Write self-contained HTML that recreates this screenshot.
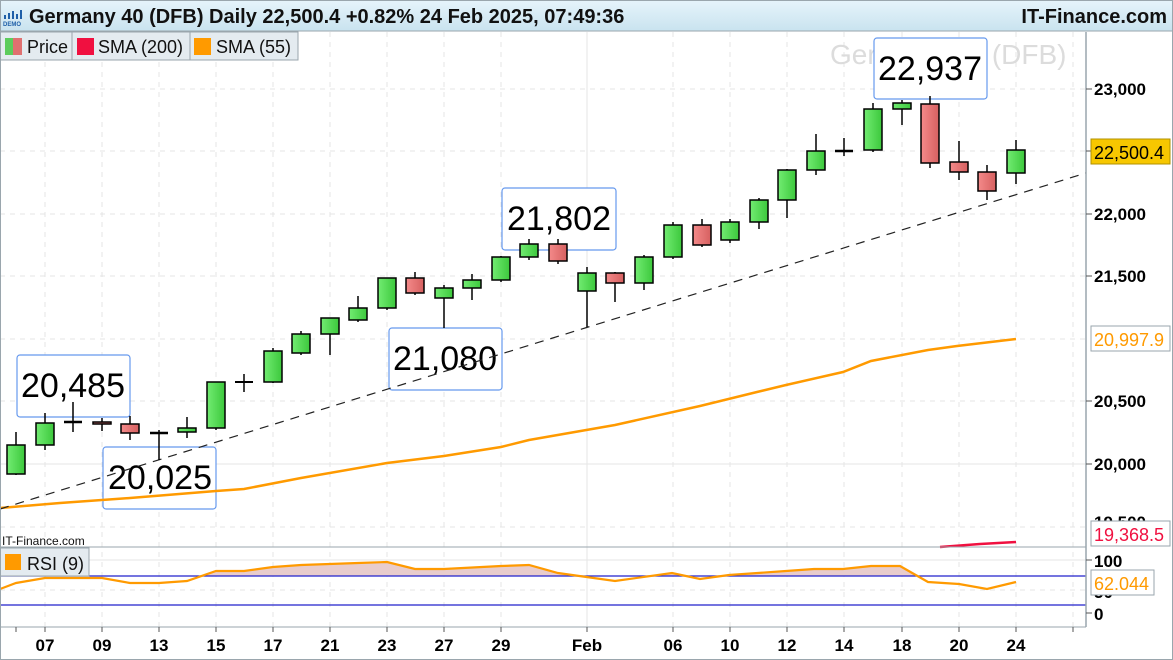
<!DOCTYPE html>
<html><head><meta charset="utf-8"><style>
html,body{margin:0;padding:0;background:#fff;}
svg{display:block;font-family:"Liberation Sans",sans-serif;}
</style></head><body>
<svg width="1173" height="660" viewBox="0 0 1173 660" xmlns="http://www.w3.org/2000/svg">
<defs>
<linearGradient id="hd" x1="0" y1="0" x2="0" y2="1"><stop offset="0" stop-color="#e6f4fb"/><stop offset="1" stop-color="#c9e3ef"/></linearGradient>
<linearGradient id="gg" x1="0" y1="0" x2="1" y2="0"><stop offset="0" stop-color="#72ec72"/><stop offset="1" stop-color="#3cc83c"/></linearGradient>
<linearGradient id="rg" x1="0" y1="0" x2="1" y2="0"><stop offset="0" stop-color="#f48a8a"/><stop offset="1" stop-color="#d66060"/></linearGradient>
</defs>
<rect width="1173" height="660" fill="#fff"/>
<!-- header -->
<rect x="0" y="0" width="1173" height="31" fill="url(#hd)"/>
<line x1="0" y1="31" x2="1173" y2="31" stroke="#9aa6ad"/>
<g fill="#1e5fa8"><rect x="4" y="15" width="2" height="4"/><rect x="8" y="13" width="2" height="6"/><rect x="12" y="11" width="2" height="8"/><rect x="16" y="14" width="2" height="5"/><rect x="20" y="10" width="2" height="9"/></g>
<text x="3" y="26" font-size="6" fill="#1e5fa8" font-weight="bold">DEMO</text>
<text x="29" y="23" font-size="20" font-weight="bold" fill="#111">Germany 40 (DFB) Daily 22,500.4 +0.82% 24 Feb 2025, 07:49:36</text>
<text x="1167" y="23" font-size="20" font-weight="bold" fill="#111" text-anchor="end">IT-Finance.com</text>
<!-- grid -->
<g stroke="#e4e4e4" stroke-dasharray="5,5">
<line x1="45" y1="32" x2="45" y2="627"/><line x1="102" y1="32" x2="102" y2="627"/><line x1="159" y1="32" x2="159" y2="627"/><line x1="216" y1="32" x2="216" y2="627"/><line x1="273" y1="32" x2="273" y2="627"/><line x1="330" y1="32" x2="330" y2="627"/><line x1="387" y1="32" x2="387" y2="627"/><line x1="444" y1="32" x2="444" y2="627"/><line x1="501" y1="32" x2="501" y2="627"/><line x1="673" y1="32" x2="673" y2="627"/><line x1="730" y1="32" x2="730" y2="627"/><line x1="787" y1="32" x2="787" y2="627"/><line x1="844" y1="32" x2="844" y2="627"/><line x1="902" y1="32" x2="902" y2="627"/><line x1="959" y1="32" x2="959" y2="627"/><line x1="1016" y1="32" x2="1016" y2="627"/><line x1="1073" y1="32" x2="1073" y2="627"/>
<line x1="0" y1="89" x2="1086" y2="89"/><line x1="0" y1="151" x2="1086" y2="151"/><line x1="0" y1="214" x2="1086" y2="214"/><line x1="0" y1="276" x2="1086" y2="276"/><line x1="0" y1="339" x2="1086" y2="339"/><line x1="0" y1="401" x2="1086" y2="401"/><line x1="0" y1="527" x2="1086" y2="527"/>
<line x1="0" y1="590" x2="1086" y2="590"/>
</g>
<line x1="0" y1="464" x2="1086" y2="464" stroke="#e6e6e6"/>
<line x1="587" y1="32" x2="587" y2="627" stroke="#e6e6e6"/>
<line x1="0" y1="560" x2="1086" y2="560" stroke="#e6e6e6"/>
<!-- watermark -->
<text x="830" y="64" font-size="28" fill="#dcdcdc">Germany 40 (DFB)</text>
<!-- legend -->
<rect x="0" y="32" width="298" height="28" fill="#e4ebf0" stroke="#9aa6ad"/>
<line x1="72" y1="32" x2="72" y2="60" stroke="#9aa6ad"/><line x1="190" y1="32" x2="190" y2="60" stroke="#9aa6ad"/>
<rect x="5" y="38" width="8" height="17" fill="#5ccc5c"/><rect x="13" y="38" width="9" height="17" fill="#e07070"/>
<text x="27" y="53" font-size="18" fill="#111">Price</text>
<rect x="77" y="38" width="17" height="17" fill="#f01040"/>
<text x="98" y="53" font-size="18" fill="#111">SMA (200)</text>
<rect x="194" y="38" width="17" height="17" fill="#ff9a00"/>
<text x="216" y="53" font-size="18" fill="#111">SMA (55)</text>
<!-- annotation boxes -->
<g fill="#fff" stroke="#6699ee" stroke-width="1.2">
<rect x="17" y="355" width="113" height="62" rx="3"/>
<rect x="103" y="447" width="113" height="62" rx="3"/>
<rect x="389" y="328" width="113" height="62" rx="3"/>
<rect x="502" y="188" width="114" height="62" rx="3"/>
<rect x="874" y="38" width="113" height="61" rx="3"/>
</g>
<g font-size="34" fill="#000" text-anchor="middle">
<text x="73" y="397">20,485</text>
<text x="160" y="489">20,025</text>
<text x="445" y="370">21,080</text>
<text x="559" y="230">21,802</text>
<text x="930" y="80">22,937</text>
</g>
<!-- SMA55 -->
<polyline fill="none" stroke="#ff9a00" stroke-width="2.5" points="0,508 60,503 130,498 216,491 244,489 301,478 387,463 444,456 501,447 529,440 615,425 700,406 757,392 786,385 843,372 871,361 928,350 957,346 1016,339"/>
<!-- SMA200 -->
<polyline fill="none" stroke="#f01040" stroke-width="2.5" points="940,547 980,544 1016,542"/>
<!-- trend line -->
<line x1="0" y1="509" x2="1086" y2="173" stroke="#222" stroke-width="1.2" stroke-dasharray="9,7"/>
<!-- candles -->
<g stroke="#000" stroke-width="1.5">
<line x1="16" y1="432" x2="16" y2="475"/><rect x="7" y="445" width="18" height="29" fill="url(#gg)"/>
<line x1="45" y1="413" x2="45" y2="450"/><rect x="36" y="423" width="18" height="22" fill="url(#gg)"/>
<line x1="73" y1="402" x2="73" y2="432"/><line x1="64" y1="422" x2="82" y2="422" stroke-width="2.5"/>
<line x1="102" y1="418" x2="102" y2="431"/><rect x="93" y="422" width="18" height="2" fill="url(#rg)"/>
<line x1="130" y1="416" x2="130" y2="440"/><rect x="121" y="424" width="18" height="9" fill="url(#rg)"/>
<line x1="159" y1="430" x2="159" y2="460"/><line x1="150" y1="433" x2="168" y2="433" stroke-width="2.5"/>
<line x1="187" y1="417" x2="187" y2="438"/><rect x="178" y="428" width="18" height="4" fill="url(#gg)"/>
<line x1="216" y1="382" x2="216" y2="430"/><rect x="207" y="382" width="18" height="46" fill="url(#gg)"/>
<line x1="244" y1="374" x2="244" y2="392"/><line x1="235" y1="382" x2="253" y2="382" stroke-width="2"/>
<line x1="273" y1="348" x2="273" y2="383"/><rect x="264" y="351" width="18" height="31" fill="url(#gg)"/>
<line x1="301" y1="331" x2="301" y2="355"/><rect x="292" y="334" width="18" height="19" fill="url(#gg)"/>
<line x1="330" y1="318" x2="330" y2="355"/><rect x="321" y="318" width="18" height="16" fill="url(#gg)"/>
<line x1="358" y1="296" x2="358" y2="322"/><rect x="349" y="308" width="18" height="12" fill="url(#gg)"/>
<line x1="387" y1="278" x2="387" y2="310"/><rect x="378" y="278" width="18" height="30" fill="url(#gg)"/>
<line x1="415" y1="272" x2="415" y2="295"/><rect x="406" y="278" width="18" height="15" fill="url(#rg)"/>
<line x1="444" y1="285" x2="444" y2="328"/><rect x="435" y="288" width="18" height="10" fill="url(#gg)"/>
<line x1="472" y1="274" x2="472" y2="300"/><rect x="463" y="280" width="18" height="8" fill="url(#gg)"/>
<line x1="501" y1="256" x2="501" y2="282"/><rect x="492" y="257" width="18" height="23" fill="url(#gg)"/>
<line x1="529" y1="239" x2="529" y2="260"/><rect x="520" y="244" width="18" height="13" fill="url(#gg)"/>
<line x1="558" y1="239" x2="558" y2="264"/><rect x="549" y="244" width="18" height="17" fill="url(#rg)"/>
<line x1="587" y1="267" x2="587" y2="327"/><rect x="578" y="273" width="18" height="18" fill="url(#gg)"/>
<line x1="615" y1="272" x2="615" y2="302"/><rect x="606" y="273" width="18" height="10" fill="url(#rg)"/>
<line x1="644" y1="255" x2="644" y2="290"/><rect x="635" y="257" width="18" height="26" fill="url(#gg)"/>
<line x1="673" y1="222" x2="673" y2="259"/><rect x="664" y="225" width="18" height="32" fill="url(#gg)"/>
<line x1="702" y1="219" x2="702" y2="247"/><rect x="693" y="225" width="18" height="20" fill="url(#rg)"/>
<line x1="730" y1="219" x2="730" y2="243"/><rect x="721" y="222" width="18" height="18" fill="url(#gg)"/>
<line x1="759" y1="198" x2="759" y2="229"/><rect x="750" y="200" width="18" height="22" fill="url(#gg)"/>
<line x1="787" y1="169" x2="787" y2="218"/><rect x="778" y="170" width="18" height="30" fill="url(#gg)"/>
<line x1="816" y1="134" x2="816" y2="175"/><rect x="807" y="151" width="18" height="19" fill="url(#gg)"/>
<line x1="844" y1="138" x2="844" y2="156"/><line x1="835" y1="151" x2="853" y2="151" stroke-width="2.5"/>
<line x1="873" y1="103" x2="873" y2="152"/><rect x="864" y="109" width="18" height="41" fill="url(#gg)"/>
<line x1="902" y1="100" x2="902" y2="125"/><rect x="893" y="103" width="18" height="6" fill="url(#gg)"/>
<line x1="930" y1="96" x2="930" y2="168"/><rect x="921" y="104" width="18" height="59" fill="url(#rg)"/>
<line x1="959" y1="141" x2="959" y2="180"/><rect x="950" y="162" width="18" height="10" fill="url(#rg)"/>
<line x1="987" y1="165" x2="987" y2="200"/><rect x="978" y="172" width="18" height="19" fill="url(#rg)"/>
<line x1="1016" y1="140" x2="1016" y2="184"/><rect x="1007" y="150" width="18" height="23" fill="url(#gg)"/>
</g>
<text x="2" y="545" font-size="12" fill="#111">IT-Finance.com</text>
<!-- RSI panel -->
<line x1="0" y1="547" x2="1086" y2="547" stroke="#9aa6ad"/>
<polygon fill="#e8cccc" points="200,576 216,571 244,571 273,567 301,565 358,563 387,562 415,569 444,569 501,566 529,565 558,573 570,576"/>
<polygon fill="#e8cccc" points="650,576 672,573 688,576"/>
<polygon fill="#e8cccc" points="720,576 729,575 786,571 814,569 843,569 871,566 900,566 918,576"/>
<line x1="0" y1="576" x2="1086" y2="576" stroke="#2222cc" stroke-width="1.2"/>
<line x1="0" y1="605" x2="1086" y2="605" stroke="#2222cc" stroke-width="1.2"/>
<polyline fill="none" stroke="#ff9a00" stroke-width="2.2" points="0,589 16,583 45,578 102,578 130,583 159,583 187,581 216,571 244,571 273,567 301,565 358,563 387,562 415,569 444,569 501,566 529,565 558,573 615,581 672,573 700,579 729,575 786,571 814,569 843,569 871,566 900,566 928,582 959,584 987,589 1016,582"/>
<rect x="0" y="548" width="89" height="28" fill="#e4ebf0" stroke="#9aa6ad"/>
<rect x="5" y="554" width="16" height="16" fill="#ff9a00"/>
<text x="27" y="570" font-size="18" fill="#111">RSI (9)</text>
<line x1="0" y1="627" x2="1086" y2="627" stroke="#9aa6ad"/>
<!-- right axis -->
<line x1="1086" y1="32" x2="1086" y2="627" stroke="#9aa6ad" stroke-width="1.5"/>
<g stroke="#555"><line x1="1086" y1="89" x2="1092" y2="89"/><line x1="1086" y1="151" x2="1092" y2="151"/><line x1="1086" y1="214" x2="1092" y2="214"/><line x1="1086" y1="276" x2="1092" y2="276"/><line x1="1086" y1="401" x2="1092" y2="401"/><line x1="1086" y1="464" x2="1092" y2="464"/><line x1="1086" y1="560" x2="1092" y2="560"/><line x1="1086" y1="613" x2="1092" y2="613"/></g>
<g font-size="17" fill="#000" font-weight="bold">
<text x="1094" y="95">23,000</text>
<text x="1094" y="220">22,000</text>
<text x="1094" y="282">21,500</text>
<text x="1094" y="407">20,500</text>
<text x="1094" y="470">20,000</text>
<text x="1094" y="528">19,500</text>
<text x="1094" y="567">100</text>
<text x="1094" y="598">50</text>
<text x="1094" y="620">0</text>
</g>
<rect x="1091" y="139" width="79" height="25" fill="#f7c700" stroke="#b09000"/>
<text x="1094" y="159" font-size="18" fill="#000">22,500.4</text>
<rect x="1091" y="326" width="79" height="25" fill="#fff" stroke="#9aa6ad"/>
<text x="1094" y="346" font-size="18" fill="#ff9a00">20,997.9</text>
<rect x="1091" y="521" width="79" height="25" fill="#fff" stroke="#9aa6ad"/>
<text x="1094" y="541" font-size="18" fill="#f01040">19,368.5</text>
<rect x="1091" y="570" width="63" height="25" fill="#fff" stroke="#9aa6ad"/>
<text x="1094" y="590" font-size="18" fill="#ff9a00">62.044</text>
<!-- date axis -->
<g stroke="#555"><line x1="16" y1="627" x2="16" y2="632"/><line x1="45" y1="627" x2="45" y2="632"/><line x1="102" y1="627" x2="102" y2="632"/><line x1="159" y1="627" x2="159" y2="632"/><line x1="216" y1="627" x2="216" y2="632"/><line x1="273" y1="627" x2="273" y2="632"/><line x1="330" y1="627" x2="330" y2="632"/><line x1="387" y1="627" x2="387" y2="632"/><line x1="444" y1="627" x2="444" y2="632"/><line x1="501" y1="627" x2="501" y2="632"/><line x1="587" y1="627" x2="587" y2="632"/><line x1="673" y1="627" x2="673" y2="632"/><line x1="730" y1="627" x2="730" y2="632"/><line x1="787" y1="627" x2="787" y2="632"/><line x1="844" y1="627" x2="844" y2="632"/><line x1="902" y1="627" x2="902" y2="632"/><line x1="959" y1="627" x2="959" y2="632"/><line x1="1016" y1="627" x2="1016" y2="632"/><line x1="1073" y1="627" x2="1073" y2="632"/></g>
<g font-size="17" fill="#000" text-anchor="middle" font-weight="bold">
<text x="45" y="651">07</text><text x="102" y="651">09</text><text x="159" y="651">13</text><text x="216" y="651">15</text><text x="273" y="651">17</text><text x="330" y="651">21</text><text x="387" y="651">23</text><text x="444" y="651">27</text><text x="501" y="651">29</text><text x="587" y="651">Feb</text><text x="673" y="651">06</text><text x="730" y="651">10</text><text x="787" y="651">12</text><text x="844" y="651">14</text><text x="902" y="651">18</text><text x="959" y="651">20</text><text x="1016" y="651">24</text>
</g>
<rect x="0.5" y="0.5" width="1172" height="659" fill="none" stroke="#9aa6ad"/>
</svg>
</body></html>
